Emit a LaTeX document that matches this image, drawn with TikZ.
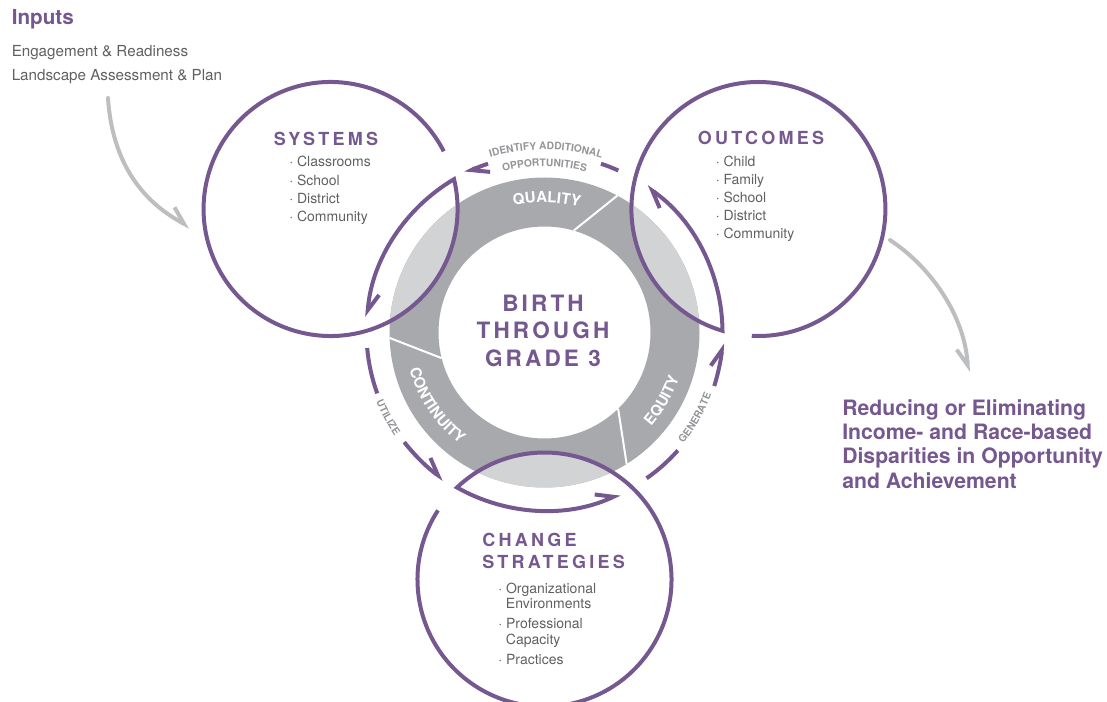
\documentclass[tikz,border=0pt]{standalone}
\usepackage{fontspec}
\setmainfont{TeX Gyre Heros}
\newfontfamily\spacedfont[LetterSpace=18]{TeX Gyre Heros}
\newfontfamily\widefont[LetterSpace=14]{TeX Gyre Heros}
\usetikzlibrary{arrows.meta,calc,decorations.text}
\definecolor{bpurple}{RGB}{117,88,143}
\definecolor{ringdark}{RGB}{167,169,172}
\definecolor{ringlight}{RGB}{209,211,212}
\definecolor{tgray}{RGB}{95,96,98}
\definecolor{lgray}{RGB}{147,149,152}
\definecolor{agray}{RGB}{188,190,192}
\tikzset{
  every node/.style={inner sep=0pt},
  loopline/.style={draw=bpurple, line width=3pt},
  lharp/.style={-{Straight Barb[left, length=12pt, width=15pt]}},
  rharp/.style={-{Straight Barb[right, length=12pt, width=15pt]}},
  feedline/.style={draw=agray, line width=3pt, line cap=round},
  titletext/.style={text=bpurple, font=\spacedfont\bfseries\fontsize{13.5}{16}\selectfont},
  centertext/.style={text=bpurple, anchor=base, font=\widefont\bfseries\fontsize{16.9}{20}\selectfont},
  itemtext/.style={text=tgray, anchor=base west, font=\fontsize{10.5}{12}\selectfont},
  resulttext/.style={text=bpurple, anchor=base west, font=\bfseries\fontsize{15.9}{18}\selectfont},
}
\newcommand\ringfont{\bfseries\fontsize{11.3}{13}\selectfont}
\newcommand\arcfont{\bfseries\fontsize{7.7}{9}\selectfont}
\begin{document}
\begin{tikzpicture}[x=0.75pt, y=0.75pt]
  \useasboundingbox (0,0) rectangle (1107,-702);
  \coordinate (M) at (544.5,-332.5);

  % ring with lighter parts inside the three circles
  \fill[ringdark, even odd rule] (M) circle[radius=155] (M) circle[radius=106];
  \foreach \a in {150,30,270}{
    \begin{scope}
      \clip (M) ++(\a:247) circle[radius=127];
      \fill[ringlight, even odd rule] (M) circle[radius=155] (M) circle[radius=106];
    \end{scope}
  }
  \foreach \a in {74,194,314}
    \draw[white, line width=1.5pt] ($(M)+(\a:106)$) -- ($(M)+({\a-12}:155)$);

  % the three loops
  \foreach \a in {150,30,270}
    \draw[loopline, lharp] (M) ++(\a:247) ++({\a+237}:127)
      arc[start angle={\a+237}, end angle={\a+583.57}, radius=127]
      arc[start angle={\a-29.46}, end angle={\a+25}, radius=178];

  % dashes round the ring
  \foreach \s/\e in {65.5/71.5,185/200,305/318.5}
    \draw[loopline] (M) ++(\s:178) arc[start angle=\s, end angle=\e, radius=178];
  \foreach \s/\e in {108.5/116.5,218/235.5,342.5/356.5}
    \draw[loopline, lharp] (M) ++(\s:178) arc[start angle=\s, end angle=\e, radius=178];

  % labels along the ring
  \path[decorate, decoration={text along path, text align=center, text color=white, text={|\ringfont|QUALITY}}]
    (M) ++(110:130) arc[start angle=110, end angle=68, radius=130];
  \path[decorate, decoration={text along path, text align=center, text color=white, text={|\ringfont|CONTINUITY}}]
    (M) ++(189:140) arc[start angle=189, end angle=239, radius=140];
  \path[decorate, decoration={text along path, text align=center, text color=white, text={|\ringfont|EQUITY}}]
    (M) ++(305:142) arc[start angle=305, end angle=355, radius=142];
  \path[decorate, decoration={text along path, text align=center, text color=lgray, text={|\arcfont|IDENTIFY ADDITIONAL}}]
    (M) ++(115:183) arc[start angle=115, end angle=64, radius=183];
  \path[decorate, decoration={text along path, text align=center, text color=lgray, text={|\arcfont|OPPORTUNITIES}}]
    (M) ++(112:166) arc[start angle=112, end angle=68, radius=166];
  \path[decorate, decoration={text along path, text align=center, text color=lgray, text={|\arcfont|UTILIZE}}]
    (M) ++(195:182) arc[start angle=195, end angle=222, radius=182];
  \path[decorate, decoration={text along path, text align=center, text color=lgray, text={|\arcfont|GENERATE}}]
    (M) ++(315:178) arc[start angle=315, end angle=346, radius=178];

  % centre
  \node[centertext] (b-1) at (543,-312) {BIRTH};
  \node[centertext] (b-2) at (543,-339) {THROUGH};
  \node[centertext] (b-3) at (543,-367) {GRADE 3};

  % systems
  \node[titletext, anchor=base] (sys-title) at (326,-146) {SYSTEMS};
  \foreach \t [count=\i] in {Classrooms,School,District,Community}
    \node[itemtext] (sys-\i) at (289,{-167-18.2*(\i-1)}) {· \t};

  % outcomes
  \node[titletext, anchor=base] (out-title) at (761,-145) {OUTCOMES};
  \foreach \t [count=\i] in {Child,Family,School,District,Community}
    \node[itemtext] (out-\i) at (715.5,{-166.5-17.9*(\i-1)}) {· \t};

  % change strategies
  \node[titletext, anchor=base west] (chg-title) at (482,-546) {CHANGE};
  \node[titletext, anchor=base west] (chg-title2) at (482,-568) {STRATEGIES};
  \node[itemtext] (chg-1) at (498,-593) {· Organizational};
  \node[itemtext] (chg-1b) at (505.7,-608.5) {Environments};
  \node[itemtext] (chg-2) at (498,-628.5) {· Professional};
  \node[itemtext] (chg-2b) at (505.7,-644) {Capacity};
  \node[itemtext] (chg-3) at (498,-664) {· Practices};

  % inputs
  \node[anchor=base west, text=bpurple, font=\bfseries\fontsize{15.5}{18}\selectfont] (inputs) at (11.5,-25) {Inputs};
  \node[anchor=base west, text=tgray, font=\fontsize{11.4}{13}\selectfont] (in-1) at (11.5,-57) {Engagement \& Readiness};
  \node[anchor=base west, text=tgray, font=\fontsize{11.4}{13}\selectfont] (in-2) at (11.5,-81) {Landscape Assessment \& Plan};
  \coordinate (in-from) at (108,-98);
  \coordinate (in-to) at (190,-227);
  \draw[feedline, lharp] (in-from) .. controls (112,-160) and (140,-200) .. (in-to);

  % result
  \coordinate (out-from) at (890,-240);
  \coordinate (out-to) at (968,-372);
  \draw[feedline, rharp] (out-from) .. controls (935,-270) and (965,-320) .. (out-to);
  \foreach \t [count=\i] in {Reducing or Eliminating,Income- and Race-based,Disparities in Opportunity,and Achievement}
    \node[resulttext] (res-\i) at (842,{-415-24.4*(\i-1)}) {\t};
\end{tikzpicture}
\end{document}
